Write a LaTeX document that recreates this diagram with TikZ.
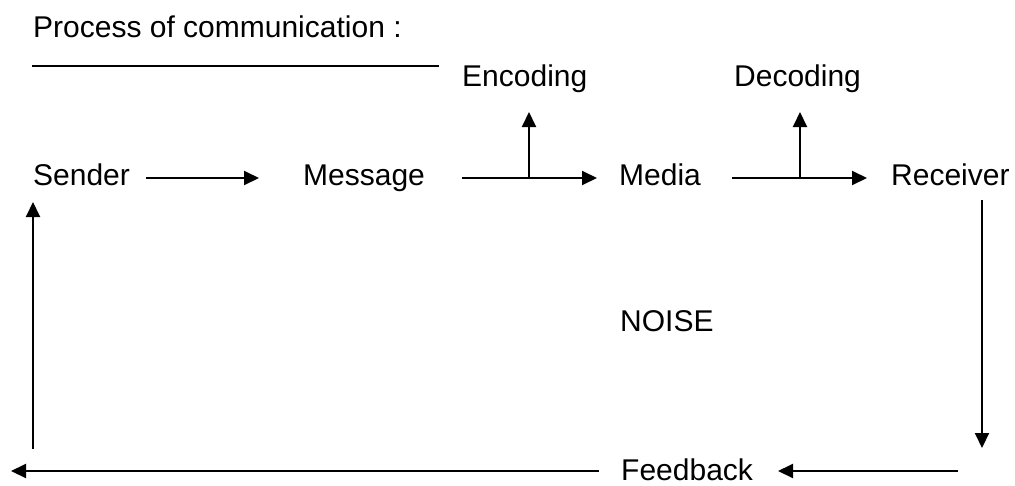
\documentclass[tikz,border=0pt]{standalone}
\usepackage{fontspec}
\setmainfont{Liberation Sans}
\usetikzlibrary{arrows.meta}
\begin{document}
\begin{tikzpicture}[x=1pt,y=-1pt,
  lbl/.style={anchor=base west,inner sep=0pt,font=\fontsize{30}{36}\selectfont},
  link/.style={line width=2pt},
  arr/.style={link,-{Triangle[length=15pt,width=14pt]}}]
\useasboundingbox (0,0) rectangle (1015,485);

% labels
\node[lbl] (title) at (33,37) {Process of communication :};
\node[lbl] (enc) at (462,86) {Encoding};
\node[lbl] (dec) at (734,86) {Decoding};
\node[lbl] (sender) at (33,185) {Sender};
\node[lbl] (msg) at (303,185) {Message};
\node[lbl] (media) at (619,185) {Media};
\node[lbl] (recv) at (891,185) {Receiver};
\node[lbl] (noise) at (620,331) {NOISE};
\node[lbl] (fb) at (621,480) {Feedback};

% underline of the heading
\draw[link] (32,66) -- (439,66);

% main chain
\coordinate (s1) at (146,178); \coordinate (s2) at (259,178);
\coordinate (m1) at (462,178); \coordinate (m2) at (597,178);
\coordinate (d1) at (732,178); \coordinate (d2) at (867,178);
\draw[arr] (s1) -- (s2);
\draw[arr] (m1) -- (m2);
\draw[arr] (d1) -- (d2);

% branches to encoding / decoding
\coordinate (ej) at (529,178); \coordinate (et) at (529,112);
\coordinate (dj) at (800,178); \coordinate (dt) at (800,112);
\draw[arr] (ej) -- (et);
\draw[arr] (dj) -- (dt);

% receiver down to feedback level
\coordinate (r1) at (982,200); \coordinate (r2) at (982,448);
\draw[arr] (r1) -- (r2);

% feedback line
\coordinate (f1) at (958,471); \coordinate (f2) at (778,471);
\draw[arr] (f1) -- (f2);
\coordinate (f3) at (599,471); \coordinate (f4) at (11,471);
\draw[arr] (f3) -- (f4);

% back up to the sender
\coordinate (u1) at (33,449); \coordinate (u2) at (33,202);
\draw[arr] (u1) -- (u2);
\end{tikzpicture}
\end{document}
